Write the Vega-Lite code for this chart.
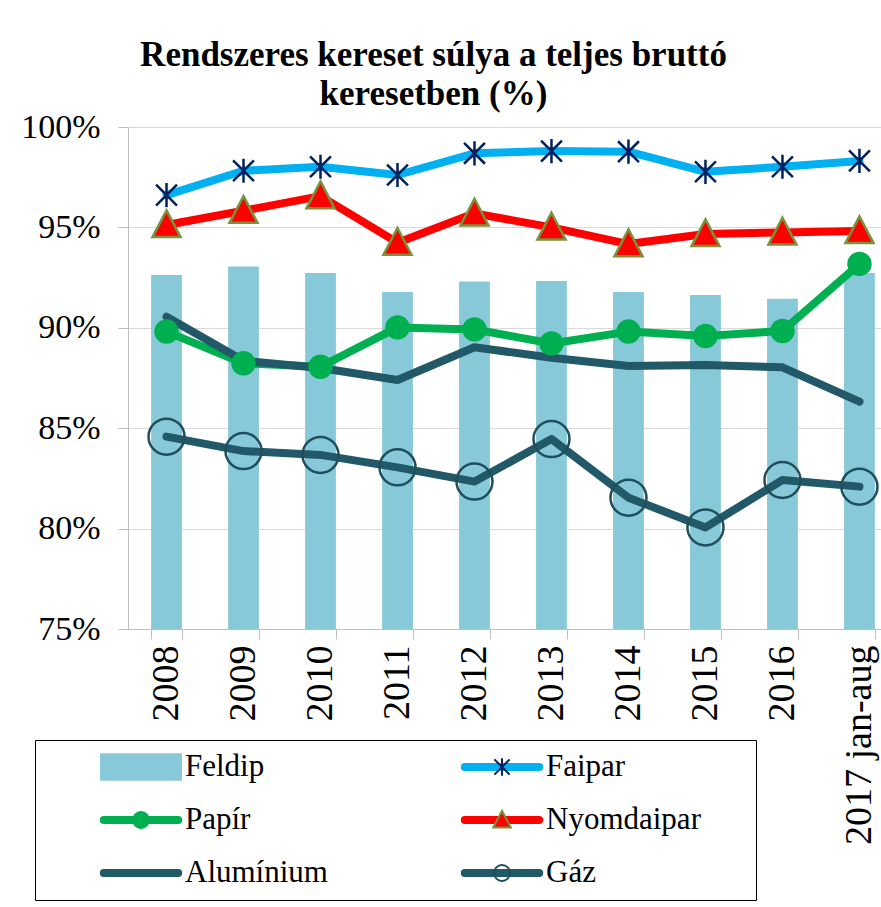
{
  "$schema": "https://vega.github.io/schema/vega-lite/v6.json",
  "width": 753,
  "height": 502,
  "autosize": {"type": "none"},
  "padding": {"left": 128, "top": 127, "right": 0, "bottom": 278},
  "background": "white",
  "config": {"view": {"stroke": null}},
  "title": {
    "text": ["Rendszeres kereset súlya a teljes bruttó", "keresetben (%)"],
    "font": "Liberation Serif",
    "fontSize": 35,
    "fontWeight": "bold",
    "color": "black",
    "anchor": "middle",
    "dx": -71,
    "lineHeight": 39,
    "offset": -2
  },
  "data": {
    "values": [
      {"year": "2008", "series": "Feldip", "value": 0.9263},
      {"year": "2009", "series": "Feldip", "value": 0.9305},
      {"year": "2010", "series": "Feldip", "value": 0.9273},
      {"year": "2011", "series": "Feldip", "value": 0.9178},
      {"year": "2012", "series": "Feldip", "value": 0.9231},
      {"year": "2013", "series": "Feldip", "value": 0.9233},
      {"year": "2014", "series": "Feldip", "value": 0.9178},
      {"year": "2015", "series": "Feldip", "value": 0.9163},
      {"year": "2016", "series": "Feldip", "value": 0.9145},
      {"year": "2017 jan-aug", "series": "Feldip", "value": 0.9273},
      {"year": "2008", "series": "Faipar", "value": 0.9661},
      {"year": "2009", "series": "Faipar", "value": 0.9782},
      {"year": "2010", "series": "Faipar", "value": 0.9802},
      {"year": "2011", "series": "Faipar", "value": 0.9761},
      {"year": "2012", "series": "Faipar", "value": 0.9869},
      {"year": "2013", "series": "Faipar", "value": 0.988},
      {"year": "2014", "series": "Faipar", "value": 0.9877},
      {"year": "2015", "series": "Faipar", "value": 0.9777},
      {"year": "2016", "series": "Faipar", "value": 0.9802},
      {"year": "2017 jan-aug", "series": "Faipar", "value": 0.9831},
      {"year": "2008", "series": "Papír", "value": 0.8981},
      {"year": "2009", "series": "Papír", "value": 0.8823},
      {"year": "2010", "series": "Papír", "value": 0.8806},
      {"year": "2011", "series": "Papír", "value": 0.9002},
      {"year": "2012", "series": "Papír", "value": 0.8992},
      {"year": "2013", "series": "Papír", "value": 0.8922},
      {"year": "2014", "series": "Papír", "value": 0.8981},
      {"year": "2015", "series": "Papír", "value": 0.8959},
      {"year": "2016", "series": "Papír", "value": 0.8984},
      {"year": "2017 jan-aug", "series": "Papír", "value": 0.9318},
      {"year": "2008", "series": "Nyomdaipar", "value": 0.9512},
      {"year": "2009", "series": "Nyomdaipar", "value": 0.9583},
      {"year": "2010", "series": "Nyomdaipar", "value": 0.9656},
      {"year": "2011", "series": "Nyomdaipar", "value": 0.9424},
      {"year": "2012", "series": "Nyomdaipar", "value": 0.957},
      {"year": "2013", "series": "Nyomdaipar", "value": 0.95},
      {"year": "2014", "series": "Nyomdaipar", "value": 0.9417},
      {"year": "2015", "series": "Nyomdaipar", "value": 0.9467},
      {"year": "2016", "series": "Nyomdaipar", "value": 0.9475},
      {"year": "2017 jan-aug", "series": "Nyomdaipar", "value": 0.9482},
      {"year": "2008", "series": "Alumínium", "value": 0.9055},
      {"year": "2009", "series": "Alumínium", "value": 0.8836},
      {"year": "2010", "series": "Alumínium", "value": 0.88},
      {"year": "2011", "series": "Alumínium", "value": 0.874},
      {"year": "2012", "series": "Alumínium", "value": 0.8903},
      {"year": "2013", "series": "Alumínium", "value": 0.8851},
      {"year": "2014", "series": "Alumínium", "value": 0.881},
      {"year": "2015", "series": "Alumínium", "value": 0.8815},
      {"year": "2016", "series": "Alumínium", "value": 0.8803},
      {"year": "2017 jan-aug", "series": "Alumínium", "value": 0.8632},
      {"year": "2008", "series": "Gáz", "value": 0.8458},
      {"year": "2009", "series": "Gáz", "value": 0.8386},
      {"year": "2010", "series": "Gáz", "value": 0.8367},
      {"year": "2011", "series": "Gáz", "value": 0.8305},
      {"year": "2012", "series": "Gáz", "value": 0.8234},
      {"year": "2013", "series": "Gáz", "value": 0.8446},
      {"year": "2014", "series": "Gáz", "value": 0.8154},
      {"year": "2015", "series": "Gáz", "value": 0.8006},
      {"year": "2016", "series": "Gáz", "value": 0.8242},
      {"year": "2017 jan-aug", "series": "Gáz", "value": 0.8209}
    ]
  },
  "encoding": {
    "x": {
      "field": "year",
      "type": "nominal",
      "sort": null,
      "scale": {"paddingInner": 0.6, "paddingOuter": 0.19, "align": 0.79},
      "axis": {
        "title": null,
        "labelAngle": -90,
        "labelFont": "Liberation Serif",
        "labelFontSize": 38,
        "labelColor": "black",
        "labelPadding": 6,
        "labelLimit": 400,
        "tickBand": "extent",
        "tickSize": 10,
        "tickColor": "#BFBFBF",
        "domainColor": "#BFBFBF",
        "grid": false
      }
    },
    "y": {
      "field": "value",
      "type": "quantitative",
      "scale": {"domain": [0.75, 1], "zero": false, "nice": false},
      "axis": {
        "title": null,
        "values": [0.75, 0.8, 0.85, 0.9, 0.95, 1],
        "format": ".0%",
        "labelFont": "Liberation Serif",
        "labelFontSize": 34,
        "labelColor": "black",
        "labelPadding": 18,
        "tickSize": 10,
        "tickColor": "#BFBFBF",
        "domainColor": "#BFBFBF",
        "grid": true,
        "gridColor": "#D9D9D9"
      }
    }
  },
  "layer": [
    {
      "transform": [{"filter": "datum.series === 'Feldip'"}],
      "mark": {"type": "bar", "color": "#88C9D9"},
      "encoding": {"y2": {"datum": 0.75}}
    },
    {
      "transform": [{"filter": "datum.series !== 'Feldip'"}],
      "mark": {"type": "line", "strokeWidth": 8, "strokeJoin": "round", "strokeCap": "round"},
      "encoding": {
        "color": {
          "field": "series",
          "type": "nominal",
          "scale": {
            "domain": ["Feldip", "Faipar", "Papír", "Nyomdaipar", "Alumínium", "Gáz"],
            "range": ["#88C9D9", "#00B0F0", "#00B050", "#FF0000", "#215968", "#215968"]
          },
          "legend": {
            "orient": "none",
            "legendX": -93,
            "legendY": 613,
            "direction": "horizontal",
            "columns": 2,
            "title": " ",
            "titleOrient": "right",
            "titleFontSize": 1,
            "titlePadding": 43,
            "symbolSize": 6400,
            "symbolStrokeWidth": 2,
            "clipHeight": 30,
            "symbolOffset": 53,
            "labelOffset": 3,
            "labelFont": "Liberation Serif",
            "labelFontSize": 31,
            "labelColor": "black",
            "rowPadding": 22,
            "columnPadding": 80,
            "padding": 12,
            "strokeColor": "black",
            "zindex": 1,
            "encode": {
              "symbols": {
                "update": {
                  "shape": {"signal": "datum.value === 'Feldip' ? 'M-1,-0.32H1V0.32H-1Z' : 'M-0.93,-0.075H0.93A0.075,0.075 0 0 1 0.93,0.075H-0.93A0.075,0.075 0 0 1 -0.93,-0.075Z'"},
                  "fill": {"scale": "color", "field": "value"},
                  "stroke": {"scale": "color", "field": "value"},
                  "strokeWidth": {"value": 2},
                  "opacity": {"value": 1}
                }
              }
            }
          }
        }
      }
    },
    {
      "transform": [{"filter": "datum.series !== 'Feldip' && datum.series !== 'Alumínium'"}],
      "mark": {"type": "point", "filled": true, "opacity": 1, "strokeWidth": 2.5},
      "encoding": {
        "shape": {
          "field": "series",
          "type": "nominal",
          "scale": {
            "domain": ["Feldip", "Faipar", "Papír", "Nyomdaipar", "Alumínium", "Gáz"],
            "range": [
              "M0,0",
              "M0,-0.22V0.22M-0.19,-0.19L0.19,0.19M-0.19,0.19L0.19,-0.19",
              "M0.2,0A0.2,0.2 0 1 1 -0.2,0A0.2,0.2 0 1 1 0.2,0Z",
              "M0,-0.23L0.22,0.19H-0.22Z",
              "M0,0",
              "M0.2,0A0.2,0.2 0 1 1 -0.2,0A0.2,0.2 0 1 1 0.2,0Z"
            ]
          },
          "legend": {
            "orient": "none",
            "legendX": -93,
            "legendY": 613,
            "direction": "horizontal",
            "columns": 2,
            "title": " ",
            "titleOrient": "right",
            "titleFontSize": 1,
            "titlePadding": 43,
            "symbolSize": 6400,
            "symbolStrokeWidth": 2,
            "symbolOpacity": 1,
            "clipHeight": 30,
            "symbolOffset": 53,
            "labelOffset": 3,
            "labelFont": "Liberation Serif",
            "labelFontSize": 31,
            "labelOpacity": 0,
            "rowPadding": 22,
            "columnPadding": 80,
            "padding": 12,
            "zindex": 2,
            "encode": {
              "symbols": {
                "update": {
                  "shape": {"scale": "shape", "field": "value"},
                  "fill": {"scale": "fill", "field": "value"},
                  "stroke": {"scale": "stroke", "field": "value"},
                  "strokeWidth": {"value": 2},
                  "opacity": {"value": 1}
                }
              }
            }
          }
        },
        "fill": {
          "field": "series",
          "type": "nominal",
          "scale": {
            "domain": ["Feldip", "Faipar", "Papír", "Nyomdaipar", "Alumínium", "Gáz"],
            "range": ["transparent", "transparent", "#00B050", "#FF0000", "transparent", "transparent"]
          }
        },
        "stroke": {
          "field": "series",
          "type": "nominal",
          "scale": {
            "domain": ["Feldip", "Faipar", "Papír", "Nyomdaipar", "Alumínium", "Gáz"],
            "range": ["transparent", "#002060", "#00B050", "#77933C", "transparent", "#1F4E5C"]
          }
        },
        "size": {
          "field": "series",
          "type": "nominal",
          "scale": {
            "type": "ordinal",
            "domain": ["Gáz", "Nyomdaipar", "Faipar", "Papír", "Feldip", "Alumínium"],
            "range": [32400, 16200, 12100, 12100, 12100, 12100]
          },
          "legend": null
        }
      }
    }
  ],
  "resolve": {
    "legend": {
      "color": "independent",
      "shape": "independent",
      "fill": "independent",
      "stroke": "independent",
      "size": "independent"
    }
  }
}
